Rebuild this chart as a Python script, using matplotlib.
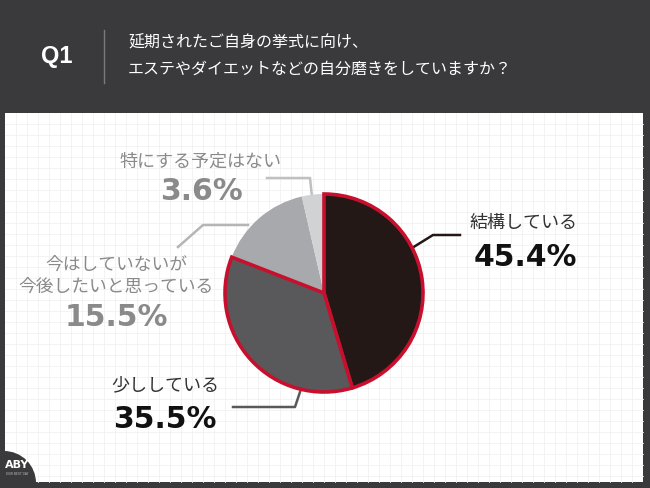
import matplotlib
matplotlib.use('Agg')
import matplotlib.pyplot as plt
from matplotlib.patches import Rectangle, Circle
import numpy as np

plt.rcParams['font.family'] = ['Noto Sans CJK JP', 'DejaVu Sans']

# data
labels = ['結構している', '少ししている', '今はしていないが\n今後したいと思っている', '特にする予定はない']
values = [45.4, 35.5, 15.5, 3.6]
colors = ['#231815', '#59585a', '#a7a9ac', '#d1d2d4']
question = '延期されたご自身の挙式に向け、\nエステやダイエットなどの自分磨きをしていますか？'

bg = '#3a3a3c'
W, H = 650, 488
fig = plt.figure(figsize=(6.5, 4.88), dpi=100, facecolor=bg)

# main axes in pixel coords (y down)
ax = fig.add_axes([0, 0, 1, 1])
ax.set_xlim(0, W)
ax.set_ylim(H, 0)
ax.axis('off')

# white grid panel
ax.add_patch(Rectangle((5, 113), 638, 369, facecolor='white', edgecolor='none', zorder=0))
for gx in np.arange(16, 643, 11):
    ax.plot([gx, gx], [113, 482], color='#f1f1f1', lw=0.6, zorder=1)
for gy in np.arange(124, 482, 11):
    ax.plot([5, 643], [gy, gy], color='#f1f1f1', lw=0.6, zorder=1)

# header
ax.text(57, 57, 'Q1', color='white', fontsize=17, fontweight='bold',
        family=['Liberation Sans', 'DejaVu Sans'], ha='center', va='center')
ax.plot([104, 104], [30, 83], color='#7a7a7a', lw=1)
ax.text(128, 56, question, color='white', fontsize=11.5, ha='left', va='center',
        linespacing=1.75)

# logo corner
ax.add_patch(Circle((4, 483), 32, facecolor=bg, edgecolor='none', zorder=2))
ax.text(17, 465, 'ABY', color='white', fontsize=8, fontweight='bold',
        family=['DejaVu Sans'], ha='center', va='center', zorder=3)
ax.text(17, 474, 'YOUR BEST DAY', color='#bbbbbb', fontsize=2.2,
        family=['DejaVu Sans'], ha='center', va='center', zorder=3)

# pie in its own axes
cx, cy, r = 324, 293, 99
hs = r * 1.1
pax = fig.add_axes([(cx - hs) / W, (H - cy - hs) / H, 2 * hs / W, 2 * hs / H])
wedges, _ = pax.pie(values, colors=colors, startangle=90, counterclock=False,
                    wedgeprops=dict(linewidth=0))
for w in wedges[:2]:
    w.set_edgecolor('#c8102e')
    w.set_linewidth(2.6)
    w.set_zorder(3)
pax.set_xlim(-1.1, 1.1)
pax.set_ylim(-1.1, 1.1)
pax.axis('off')

# leader lines
ax.plot([412, 433, 460], [248, 235, 235], color='#231815', lw=1.8, zorder=4)
ax.plot([300, 295, 233], [392, 407, 407], color='#59585a', lw=1.8, zorder=4)
ax.plot([248, 203, 178], [225, 225, 247], color='#b5b5b5', lw=1.8, zorder=4)
ax.plot([267, 310, 312], [178, 178, 197], color='#c0c0c0', lw=1.8, zorder=4)

# labels
pct_font = ['DejaVu Sans']
ax.text(524, 223, labels[0], color='#333333', fontsize=13, ha='center', va='center')
ax.text(525, 258, f'{values[0]}%', color='#111111', fontsize=21.5, fontweight='bold',
        family=pct_font, ha='center', va='center')
ax.text(165, 385, labels[1], color='#333333', fontsize=13, ha='center', va='center')
ax.text(165, 420, f'{values[1]}%', color='#111111', fontsize=21.5, fontweight='bold',
        family=pct_font, ha='center', va='center')
ax.text(116, 276, labels[2], color='#8a8a8a', fontsize=12.8, ha='center', va='center',
        linespacing=1.3)
ax.text(116, 318, f'{values[2]}%', color='#8a8a8a', fontsize=21.5, fontweight='bold',
        family=pct_font, ha='center', va='center')
ax.text(200, 162, labels[3], color='#8a8a8a', fontsize=13, ha='center', va='center')
ax.text(201, 192, f'{values[3]}%', color='#8a8a8a', fontsize=21.5, fontweight='bold',
        family=pct_font, ha='center', va='center')

fig.savefig('out.png', dpi=100, facecolor=bg)
